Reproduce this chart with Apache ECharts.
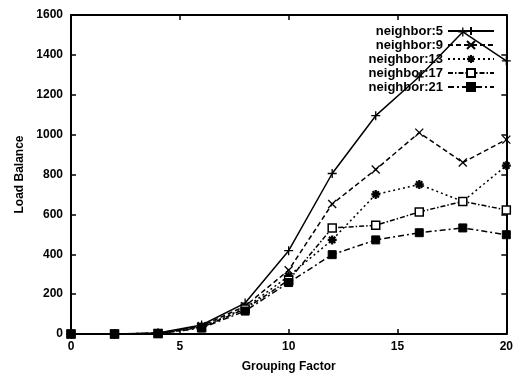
<!DOCTYPE html>
<html>
<head>
<meta charset="utf-8">
<script src="https://cdn.jsdelivr.net/npm/echarts@6/dist/echarts.min.js"></script>
<style>html,body{margin:0;padding:0;background:#fff}#c{width:516px;height:380px}</style>
</head>
<body>
<div id="c"></div>
<script>
var xValues = [0, 2, 4, 6, 8, 10, 12, 14, 16, 18, 20];
var seriesNames = ['neighbor:5', 'neighbor:9', 'neighbor:13', 'neighbor:17', 'neighbor:21'];
var n5  = [0, 0, 5, 45, 155, 418, 805, 1095, 1290, 1515, 1370];
var n9  = [0, 0, 4, 40, 140, 320, 652, 825, 1010, 860, 975];
var n13 = [0, 0, 4, 35, 130, 290, 472, 700, 750, 665, 845];
var n17 = [0, 0, 3, 33, 125, 270, 532, 545, 612, 665, 622];
var n21 = [0, 0, 2, 30, 115, 258, 398, 472, 508, 532, 498];
var xTicks = [0, 5, 10, 15, 20];
var yTicks = [0, 200, 400, 600, 800, 1000, 1200, 1400, 1600];

var font = 'Liberation Sans, Arial, sans-serif';
function pts(v) { return xValues.map(function (x, i) { return [x, v[i]]; }); }

var symPlus = 'path://M0,5L10,5M5,0L5,10';
var symX = 'path://M0,0L10,10M10,0L0,10';
var symStar = 'path://M0,5L10,5M5,0L5,10M1.5,1.5L8.5,8.5M8.5,1.5L1.5,8.5';

var defs = [
  {d: n5, type: 'solid', sym: symPlus, size: 9, fill: 'none', bw: 1.3},
  {d: n9, type: [5, 3], sym: symX, size: 8, fill: 'none', bw: 1.3},
  {d: n13, type: [2, 3], sym: symStar, size: 9, fill: '#000', bw: 2.2},
  {d: n17, type: [5, 2, 1.5, 2], sym: 'rect', size: 8, fill: '#fff', bw: 1.5},
  {d: n21, type: [6, 3, 2, 3], sym: 'rect', size: 8, fill: '#000', bw: 1}
];

var series = defs.map(function (s, i) {
  return {
    name: seriesNames[i],
    type: 'line',
    data: pts(s.d),
    symbol: s.sym,
    symbolSize: s.size,
    showSymbol: true,
    lineStyle: {color: '#000', width: 1.5, type: s.type},
    itemStyle: {color: s.fill, borderColor: '#000', borderWidth: s.bw},
    z: 2 + i,
    animation: false
  };
});
// empty helper series so the mirrored top/right axes are drawn
series.push({type: 'line', xAxisIndex: 1, yAxisIndex: 1, data: [], silent: true, showSymbol: false});

var axisCommon = {
  show: true,
  axisLine: {show: true, onZero: false, lineStyle: {color: '#000', width: 2}},
  axisTick: {show: true, inside: true, length: 5, lineStyle: {color: '#000', width: 1.5}},
  splitLine: {show: false}
};

var option = {
  backgroundColor: '#fff',
  animation: false,
  grid: {left: 71, right: 9, top: 15, bottom: 46},
  legend: {
    orient: 'vertical',
    right: 16,
    top: 19,
    align: 'right',
    itemWidth: 46,
    itemHeight: 10,
    itemGap: 0,
    textStyle: {fontFamily: font, fontSize: 13, fontWeight: 'bold', color: '#000', lineHeight: 14},
    data: seriesNames
  },
  xAxis: [
    Object.assign({
      type: 'value', min: xTicks[0], max: xTicks[xTicks.length - 1], interval: xTicks[1] - xTicks[0],
      position: 'bottom',
      name: 'Grouping Factor', nameLocation: 'middle', nameGap: 27,
      nameTextStyle: {fontFamily: font, fontSize: 12, fontWeight: 'bold', color: '#000'},
      axisLabel: {fontFamily: font, fontSize: 12, fontWeight: 'bold', color: '#000', margin: 7}
    }, axisCommon),
    Object.assign({
      type: 'value', min: xTicks[0], max: xTicks[xTicks.length - 1], interval: xTicks[1] - xTicks[0],
      position: 'top', axisLabel: {show: false}
    }, axisCommon)
  ],
  yAxis: [
    Object.assign({
      type: 'value', min: yTicks[0], max: yTicks[yTicks.length - 1], interval: yTicks[1] - yTicks[0],
      position: 'left',
      name: 'Load Balance', nameLocation: 'middle', nameGap: 32,
      nameTextStyle: {fontFamily: font, fontSize: 12, fontWeight: 'bold', color: '#000'},
      axisLabel: {fontFamily: font, fontSize: 12, fontWeight: 'bold', color: '#000', margin: 8,
        formatter: function (v) { return String(v); }}
    }, axisCommon),
    Object.assign({
      type: 'value', min: yTicks[0], max: yTicks[yTicks.length - 1], interval: yTicks[1] - yTicks[0],
      position: 'right', axisLabel: {show: false}
    }, axisCommon)
  ],
  series: series
};

var chart = echarts.init(document.getElementById('c'), null, {renderer: 'canvas'});
chart.setOption(option);
</script>
</body>
</html>
